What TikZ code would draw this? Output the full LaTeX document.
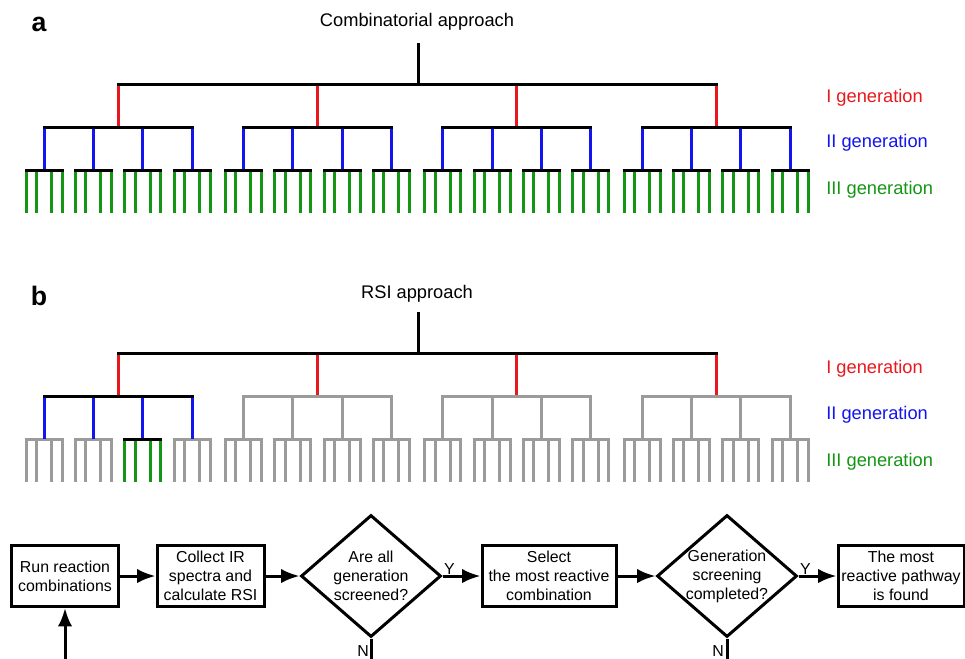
\documentclass[tikz,border=0pt]{standalone}
\usepackage{fontspec}
\setmainfont{Liberation Sans}
\usetikzlibrary{shapes.geometric,arrows.meta}

\definecolor{genred}{RGB}{232,24,30}
\definecolor{genblue}{RGB}{20,20,240}
\definecolor{gengreen}{RGB}{20,150,20}
\definecolor{gengray}{RGB}{155,155,155}

\newcommand{\labfont}{\fontsize{13}{15.6}\selectfont}
\newcommand{\flowfont}{\fontsize{11.3}{13.5}\selectfont}
\newcommand{\panelfont}{\fontsize{19}{22}\selectfont\bfseries}

\begin{document}
\begin{tikzpicture}[x=0.25mm, y=-0.25mm,
		bar/.style={line width=0.75mm, line cap=rect},
		stem/.style={line width=0.75mm},
		gentxt/.style={font=\labfont, anchor=west, inner sep=0pt},
		stepbox/.style={draw, line width=0.75mm, minimum height=15.25mm, align=center, font=\flowfont, inner sep=0pt},
		decide/.style={draw, diamond, line width=0.75mm, minimum width=35mm, minimum height=30.5mm, inner sep=0pt},
		flowtxt/.style={align=center, font=\flowfont, inner sep=1pt},
		flowline/.style={line width=0.75mm},
		flowarrow/.style={line width=0.75mm, -{Latex[length=4.6mm,width=3.6mm]}}]
	
	\useasboundingbox (0,0) rectangle (965,658);
	
	% Panel a: arbol combinatorio
	\node[font=\panelfont] (pa) at (39,24) {a};
	\node[font=\labfont] (titlea) at (417,22) {Combinatorial approach};
	\draw[stem] (418,43) -- (418,84);
	\foreach \r in {118,317.3,516.7,716} {
		\draw[stem, genred] (\r,84) -- (\r,127);
		\foreach \b in {-74,-24.7,24.7,74} {
			\draw[stem, genblue] (\r+\b,127) -- (\r+\b,170);
			\foreach \l in {-18,-7.5,7.5,18}
			\draw[stem, gengreen] (\r+\b+\l,170) -- (\r+\b+\l,213);
			\draw[bar] (\r+\b-18,170) -- (\r+\b+18,170);
		}
		\draw[bar] (\r-74,127) -- (\r+74,127);
	}
	\draw[bar] (118,84) -- (716,84);
	
	\node[gentxt, genred] (gen1a) at (826,98) {I generation};
	\node[gentxt, genblue] (gen2a) at (826,143) {II generation};
	\node[gentxt, gengreen] (gen3a) at (826,190) {III generation};
	
	% Panel b: arbol RSI
	\node[font=\panelfont] (pb) at (39,296) {b};
	\node[font=\labfont] (titleb) at (417,294) {RSI approach};
	\foreach \r in {118,317.3,516.7,716} {
		\draw[stem, genred] (\r,353) -- (\r,396);
		\foreach \b in {-74,-24.7,24.7,74} {
			\draw[stem, gengray] (\r+\b,396) -- (\r+\b,439);
			\foreach \l in {-18,-7.5,7.5,18}
			\draw[stem, gengray] (\r+\b+\l,439) -- (\r+\b+\l,482);
			\draw[bar, gengray] (\r+\b-18,439) -- (\r+\b+18,439);
		}
		\draw[bar, gengray] (\r-74,396) -- (\r+74,396);
	}
	% rama seleccionada
	\foreach \b in {-74,-24.7,24.7,74}
	\draw[stem, genblue] (118+\b,396) -- (118+\b,439);
	\draw[bar] (44,396) -- (192,396);
	\foreach \l in {-18,-7.5,7.5,18}
	\draw[stem, gengreen] (142.7+\l,439) -- (142.7+\l,482);
	\draw[bar] (124.7,439) -- (160.7,439);
	\draw[stem] (418,312) -- (418,353);
	\draw[bar] (118,353) -- (716,353);
	
	\node[gentxt, genred] (gen1b) at (826,369) {I generation};
	\node[gentxt, genblue] (gen2b) at (826,415) {II generation};
	\node[gentxt, gengreen] (gen3b) at (826,462) {III generation};
	
	% Diagrama de flujo
	\node[stepbox, minimum width=26.5mm] (run) at (65,576) {Run reaction\\combinations};
	\node[stepbox, minimum width=26.75mm] (collect) at (210.5,576) {Collect IR\\spectra and\\calculate RSI};
	\node[decide] (allgen) at (371,576) {};
	\node[flowtxt] (allgentxt) at (allgen) {Are all\\generation\\screened?};
	\node[stepbox, minimum width=33.5mm] (select) at (549,576) {Select\\the most reactive\\combination};
	\node[decide] (genscr) at (727,576) {};
	\node[flowtxt] (genscrtxt) at (genscr) {Generation\\screening\\completed?};
	\node[stepbox, minimum width=31.5mm] (found) at (901,576) {The most\\reactive pathway\\is found};
	
	\node[flowtxt, anchor=south west] (ya) at (allgen.east) {Y};
	\node[flowtxt, anchor=south west] (yb) at (genscr.east) {Y};
	\node[flowtxt] (na) at (363,651) {N};
	\node[flowtxt] (nb) at (718,651) {N};
	
	\coordinate (loopa) at (371,668);
	\coordinate (loopb) at (727,668);
	\coordinate (loopin) at (65,668);
	
	\draw[flowarrow] (run) -- (collect);
	\draw[flowarrow] (collect) -- (allgen);
	\draw[flowarrow] (allgen) -- (select);
	\draw[flowarrow] (select) -- (genscr);
	\draw[flowarrow] (genscr) -- (found);
	\draw[flowline] (allgen.south) -- (loopa);
	\draw[flowline] (genscr.south) -- (loopb);
	\draw[flowarrow] (loopin) -- (run.south);
	
\end{tikzpicture}
\end{document}
